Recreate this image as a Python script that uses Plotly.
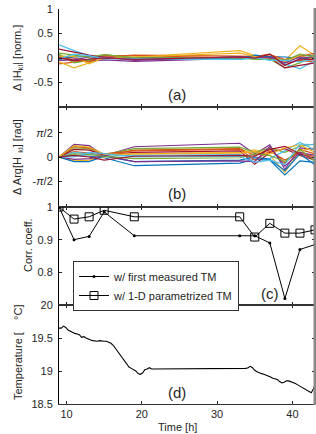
import plotly.graph_objects as go

# ---------------- data ----------------
t_meas = [9, 11, 13, 15, 19, 33, 35, 37, 39, 41, 43]

dmag = [
    [0.05, -0.05, -0.03, 0.0, -0.02, 0.02, 0.05, 0.03, -0.05, 0.06, 0.04],
    [-0.12, -0.08, -0.05, 0.02, 0.06, 0.04, 0.03, 0.08, -0.10, -0.05, -0.08],
    [-0.08, -0.20, -0.10, -0.02, 0.02, 0.15, 0.05, 0.02, -0.05, 0.25, 0.05],
    [0.02, 0.0, -0.06, -0.04, -0.07, 0.0, 0.0, 0.03, -0.15, -0.02, 0.03],
    [0.08, -0.10, -0.05, 0.07, 0.0, -0.02, 0.0, -0.02, -0.20, -0.10, 0.07],
    [0.27, 0.15, 0.05, 0.0, -0.03, -0.03, 0.0, -0.02, -0.12, -0.22, -0.05],
    [0.18, 0.12, 0.06, 0.02, 0.0, 0.0, 0.01, 0.0, -0.20, -0.15, -0.10],
    [-0.03, 0.02, 0.03, -0.01, 0.01, -0.01, 0.06, 0.03, 0.02, 0.0, -0.02],
    [0.0, -0.03, -0.08, 0.05, 0.05, 0.0, 0.02, 0.07, -0.03, 0.03, 0.10],
    [0.04, 0.03, -0.12, 0.01, 0.02, 0.10, 0.03, -0.04, -0.08, 0.05, -0.03],
    [-0.05, -0.04, 0.02, 0.02, -0.05, 0.03, 0.0, 0.02, -0.10, 0.02, 0.0],
    [0.10, 0.06, 0.02, 0.07, 0.01, 0.0, -0.03, -0.03, -0.05, 0.08, 0.02],
    [-0.02, 0.08, 0.05, -0.02, -0.01, -0.03, 0.01, -0.05, -0.05, -0.08, -0.02],
    [0.01, -0.06, -0.02, 0.0, -0.03, 0.02, 0.0, 0.08, -0.15, -0.02, -0.04],
]

dphase = [
    [0, 0.10, 0.05, -0.05, -0.57, -0.40, -0.15, -0.20, -1.17, -0.25, -0.35],
    [0, 0.35, 0.25, 0.10, 0.45, 0.55, 0.10, 0.55, -0.40, 0.50, 0.20],
    [0, -0.25, -0.20, 0.0, 0.20, 0.30, 0.46, 0.10, -1.00, 0.40, 0.60],
    [0, 0.83, 0.74, 0.10, 0.67, 0.90, 0.20, 0.80, -0.80, 0.60, 0.50],
    [0, 0.60, 0.55, 0.15, 0.55, 0.65, 0.30, 0.60, 0.30, 0.70, 0.85],
    [0, 0.30, 0.20, 0.05, 0.10, 0.15, -0.10, -0.10, 0.40, 0.96, 0.45],
    [0, 0.50, 0.45, 0.12, 0.30, 0.40, -0.48, 0.30, 0.55, 0.10, -0.20],
    [0, -0.30, -0.30, 0.05, -0.30, -0.20, 0.0, -0.15, -0.90, 0.20, -0.50],
    [0, 0.70, 0.60, 0.20, 0.40, 0.50, -0.20, 0.40, -0.20, 0.30, 0.0],
    [0, 0.75, 0.65, 0.17, 0.20, 0.25, 0.35, 0.20, 0.60, 0.80, 0.30],
    [0, -0.15, -0.10, 0.10, -0.30, -0.25, -0.30, 0.70, -0.60, 0.30, 0.10],
    [0, 0.20, 0.15, 0.05, -0.10, -0.05, 0.20, 0.10, -0.30, 0.50, -0.30],
    [0, 0.0, 0.30, 0.22, 0.0, 0.05, -0.35, -0.20, -0.50, 0.85, 0.80],
    [0, 0.10, 0.0, -0.20, 0.05, 0.10, 0.05, 0.50, 0.70, 0.20, -0.10],
]

corr_first = [1.0, 0.90, 0.91, 0.985, 0.912, 0.912, 0.912, 0.89, 0.72, 0.87, 0.885]
corr_param = [1.0, 0.963, 0.97, 0.99, 0.97, 0.97, 0.908, 0.95, 0.92, 0.92, 0.93]

t_temp = [9.0, 9.3, 9.6, 9.9, 10.2, 10.5, 10.8, 11.1, 11.4, 11.7, 12.0, 12.3, 12.6,
          12.9, 13.2, 13.5, 13.8, 14.1, 14.4, 14.7, 15.0, 15.3, 15.6, 15.9, 16.2,
          16.5, 16.8, 17.1, 17.4, 17.7, 18.0, 18.3, 18.6, 18.9, 19.2, 19.5, 19.8,
          20.1, 20.4, 20.7, 21.0, 21.3, 22.0, 33.5, 33.8, 34.1, 34.4, 34.7, 35.0,
          35.3, 35.6, 35.9, 36.2, 36.5, 36.8, 37.1, 37.4, 37.7, 38.0, 38.3, 38.6,
          38.9, 39.2, 39.5, 39.8, 40.1, 40.4, 40.7, 41.0, 41.3, 41.6, 41.9, 42.2,
          42.5, 42.8, 43.0]
temp = [19.65, 19.65, 19.68, 19.66, 19.62, 19.60, 19.58, 19.57, 19.56, 19.55, 19.51,
        19.52, 19.50, 19.48, 19.47, 19.46, 19.45, 19.45, 19.46, 19.45, 19.45, 19.45,
        19.44, 19.42, 19.39, 19.34, 19.29, 19.24, 19.20, 19.15, 19.10, 19.06, 19.04,
        19.02, 19.00, 18.96, 18.95, 18.97, 19.02, 19.03, 19.05, 19.03, 19.03, 19.03,
        19.04, 19.05, 19.07, 19.05, 19.01, 18.99, 18.97, 18.96, 18.95, 18.94, 18.93,
        18.91, 18.89, 18.88, 18.87, 18.84, 18.82, 18.83, 18.85, 18.85, 18.84, 18.82,
        18.81, 18.79, 18.77, 18.75, 18.73, 18.70, 18.68, 18.67, 18.73, 18.79]

colors = ["#0072BD", "#D95319", "#EDB120", "#7E2F8E", "#77AC30", "#4DBEEE", "#A2142F"]

# ---------------- figure ----------------
W, H = 316, 434
def py(v):
    return 1 - v / H

x0, x1 = 59 / W, 315 / W
dom = {
    "a": [py(107), py(9)],
    "b": [py(207), py(107)],
    "c": [py(305), py(207)],
    "d": [py(404), py(305)],
}
FONT = "Liberation Sans, Arial, Helvetica, sans-serif"
TXT = "#262626"

fig = go.Figure()

for i, row in enumerate(dmag):
    fig.add_trace(go.Scatter(x=t_meas, y=row, mode="lines", xaxis="x", yaxis="y",
                             line=dict(color=colors[i % 7], width=1.2),
                             showlegend=False, hoverinfo="skip"))
for i, row in enumerate(dphase):
    fig.add_trace(go.Scatter(x=t_meas, y=row, mode="lines", xaxis="x2", yaxis="y2",
                             line=dict(color=colors[i % 7], width=1.2),
                             showlegend=False, hoverinfo="skip"))

fig.add_trace(go.Scatter(x=t_meas, y=corr_first, mode="lines+markers", xaxis="x3", yaxis="y3",
                         name="w/ first measured TM",
                         line=dict(color="black", width=1),
                         marker=dict(symbol="circle", size=3, color="black")))
fig.add_trace(go.Scatter(x=t_meas, y=corr_param, mode="lines+markers", xaxis="x3", yaxis="y3",
                         name="w/ 1-D parametrized TM",
                         line=dict(color="black", width=1),
                         marker=dict(symbol="square-open", size=8, color="black",
                                     line=dict(width=1, color="black"))))

fig.add_trace(go.Scatter(x=t_temp, y=temp, mode="lines", xaxis="x4", yaxis="y4",
                         line=dict(color="black", width=1.1),
                         showlegend=False, hoverinfo="skip"))

xcommon = dict(range=[9, 43], domain=[x0, x1], tickvals=[10, 20, 30, 40],
               ticks="inside", ticklen=3, tickcolor=TXT, tickwidth=1,
               showline=True, linecolor="#333333", linewidth=1,
               showgrid=False, zeroline=False, automargin=False,
               tickfont=dict(family=FONT, size=11, color=TXT))
ycommon = dict(ticks="inside", ticklen=3, tickcolor=TXT, tickwidth=1,
               showline=True, linecolor="black", linewidth=1, mirror="ticks",
               showgrid=False, zeroline=False, automargin=False,
               ticklabelstandoff=3,
               tickfont=dict(family=FONT, size=11, color=TXT))

def xa(anchor, labels, mirror):
    d = dict(xcommon)
    d.update(anchor=anchor, showticklabels=labels, mirror=mirror)
    return d

def ya(anchor, d_, rng, tv, tt):
    d = dict(ycommon)
    d.update(anchor=anchor, domain=d_, range=rng, tickvals=tv, ticktext=tt)
    return d

pi = 3.141592653589793
fig.update_layout(
    width=W, height=H,
    margin=dict(l=0, r=0, t=0, b=0),
    paper_bgcolor="white", plot_bgcolor="white",
    showlegend=True,
    xaxis=xa("y", False, False),
    xaxis2=xa("y2", False, "ticks"),
    xaxis3=xa("y3", False, "ticks"),
    xaxis4=xa("y4", True, "ticks"),
    xaxis5=dict(overlaying="x", side="top", anchor="y", range=[9, 43], domain=[x0, x1],
                tickvals=[10, 20, 30, 40], ticks="inside", ticklen=3, tickcolor=TXT,
                showline=False, showticklabels=False, showgrid=False, zeroline=False),
    yaxis=ya("x", dom["a"], [-1, 1], [-0.5, 0, 0.5, 1], ["-0.5", "0", "0.5", "1"]),
    yaxis2=ya("x2", dom["b"], [-3.27, 3.27], [-pi / 2, 0, pi / 2],
              ["-<i>π</i>/2", "0", "<i>π</i>/2"]),
    yaxis3=ya("x3", dom["c"], [0.7, 1.0], [0.8, 0.9, 1.0], ["0.8", "0.9", "1"]),
    yaxis4=ya("x4", dom["d"], [18.5, 20], [18.5, 19, 19.5, 20], ["18.5", "19", "19.5", "20"]),
    legend=dict(x=73 / W, y=py(261), xanchor="left", yanchor="top",
                bgcolor="white", bordercolor="#333333", borderwidth=1,
                font=dict(family=FONT, size=11, color=TXT),
                tracegroupgap=0, itemwidth=30),
)

ann = []
def ytitle(text, x, ycen):
    ann.append(dict(text=text, x=x / W, y=py(ycen), xref="paper", yref="paper",
                    textangle=-90, showarrow=False, xanchor="center", yanchor="middle",
                    font=dict(family=FONT, size=11, color=TXT)))
ytitle("Δ |H<sub>kl</sub>| [norm.]", 18, 58)
ytitle("Δ Arg[H<sub>  kl</sub>] [rad]", 18, 157)
ytitle("Corr. coeff.", 28, 245)
ytitle("Temperature [    °C]", 18, 352)

def plabel(text, x, y):
    ann.append(dict(text=text, x=x / W, y=py(y), xref="paper", yref="paper",
                    showarrow=False, xanchor="center", yanchor="middle",
                    font=dict(family=FONT, size=15, color=TXT)))
plabel("(a)", 177, 94)
plabel("(b)", 177, 193)
plabel("(c)", 270, 293)
plabel("(d)", 177, 392)

ann.append(dict(text="Time [h]", x=177 / W, y=py(427), xref="paper", yref="paper",
                showarrow=False, xanchor="center", yanchor="middle",
                font=dict(family=FONT, size=11, color=TXT)))
fig.update_layout(annotations=ann)

fig.add_shape(type="rect", xref="paper", yref="paper", x0=313.5 / W, x1=1,
              y0=py(405), y1=py(8), fillcolor="#8a8a8a", line=dict(width=0), layer="above")

fig.write_html("out.html", config={"displayModeBar": False})

# remove the default page margin so the figure sits at the window's top-left corner
with open("out.html", "r", encoding="utf-8") as f:
    html = f.read()
html = html.replace("<head>", "<head><style>html,body{margin:0;padding:0;overflow:hidden;}</style>", 1)
with open("out.html", "w", encoding="utf-8") as f:
    f.write(html)
